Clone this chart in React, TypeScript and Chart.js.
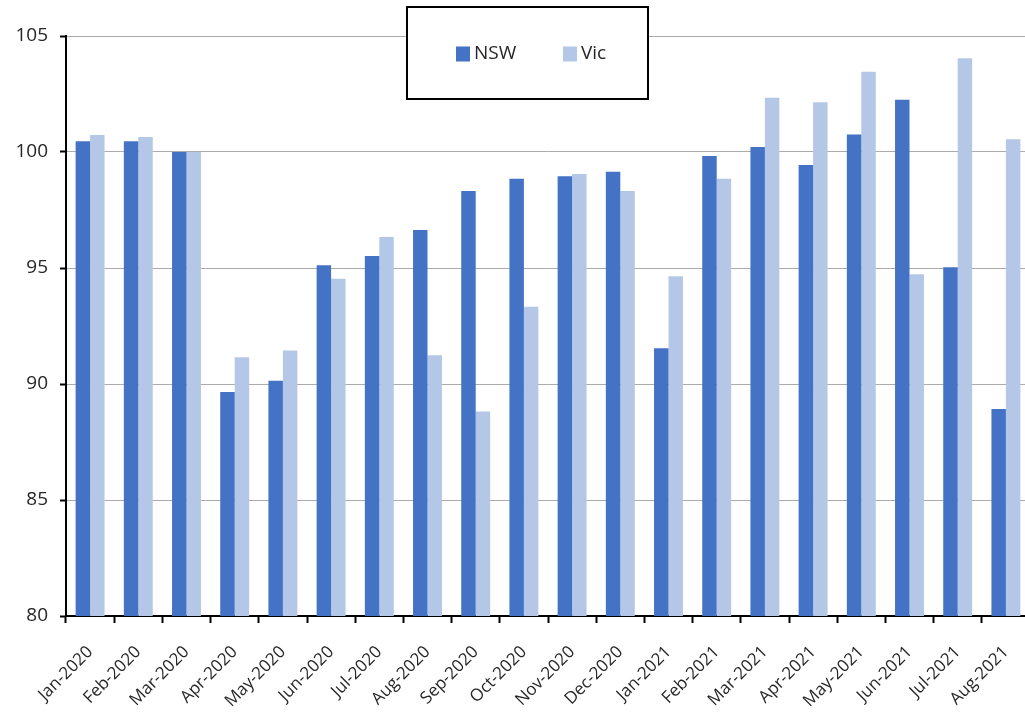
import React, { useEffect, useRef } from "react";
import { Chart, registerables } from "chart.js";

Chart.register(...registerables);

const categories = [
  "Jan-2020", "Feb-2020", "Mar-2020", "Apr-2020", "May-2020", "Jun-2020",
  "Jul-2020", "Aug-2020", "Sep-2020", "Oct-2020", "Nov-2020", "Dec-2020",
  "Jan-2021", "Feb-2021", "Mar-2021", "Apr-2021", "May-2021", "Jun-2021",
  "Jul-2021", "Aug-2021",
];

const nswValues = [
  100.46, 100.46, 100.0, 89.66, 90.14, 95.12, 95.52, 96.64, 98.32, 98.85,
  98.95, 99.15, 91.54, 99.83, 100.22, 99.44, 100.75, 102.25, 95.03, 88.92,
];

const vicValues = [
  100.73, 100.65, 100.0, 91.15, 91.44, 94.54, 96.34, 91.24, 88.82, 93.33,
  99.05, 98.32, 94.64, 98.85, 102.34, 102.14, 103.46, 94.73, 104.04, 100.55,
];

const seriesNames = ["NSW", "Vic"];
const seriesColors = ["#4472C4", "#B4C7E7"];
const yMin = 80;
const yMax = 105;
const yStep = 5;

const FONT = "'Open Sans', 'Liberation Sans', sans-serif";

const boxedLegend = {
  id: "boxedLegend",
  afterDraw(chart: any, _args: any, opts: any) {
    const ctx = chart.ctx;
    ctx.save();
    ctx.fillStyle = "#ffffff";
    ctx.fillRect(opts.x, opts.y, opts.w, opts.h);
    ctx.strokeStyle = "#000000";
    ctx.lineWidth = 2;
    ctx.strokeRect(opts.x, opts.y, opts.w, opts.h);
    ctx.font = `19px ${FONT}`;
    ctx.textBaseline = "middle";
    ctx.textAlign = "left";
    chart.data.datasets.forEach((ds: any, i: number) => {
      const ix = opts.itemX[i];
      ctx.fillStyle = ds.backgroundColor;
      ctx.fillRect(ix, opts.itemY - 7.5, 14, 15);
      ctx.fillStyle = "#262626";
      ctx.fillText(ds.label, ix + 18, opts.itemY);
    });
    ctx.restore();
  },
};

export default function App() {
  const canvasRef = useRef<HTMLCanvasElement | null>(null);

  useEffect(() => {
    if (!canvasRef.current) return;
    const chart = new Chart(canvasRef.current, {
      type: "bar",
      data: {
        labels: categories,
        datasets: [
          {
            label: seriesNames[0],
            data: nswValues,
            backgroundColor: seriesColors[0],
            categoryPercentage: 0.6,
            barPercentage: 1.0,
          },
          {
            label: seriesNames[1],
            data: vicValues,
            backgroundColor: seriesColors[1],
            categoryPercentage: 0.6,
            barPercentage: 1.0,
          },
        ],
      },
      options: {
        responsive: false,
        animation: false,
        layout: { padding: { top: 36, right: 15, left: 0, bottom: 0 } },
        plugins: {
          legend: { display: false },
          tooltip: { enabled: false },
          boxedLegend: {
            x: 407,
            y: 7,
            w: 241,
            h: 92,
            itemX: [456, 563],
            itemY: 54,
          },
        } as any,
        scales: {
          x: {
            offset: true,
            grid: {
              offset: true,
              drawOnChartArea: false,
              drawTicks: true,
              tickLength: 7,
              tickColor: "#000000",
              tickWidth: 2,
            },
            border: { color: "#000000", width: 2 },
            ticks: {
              color: "#262626",
              font: { family: FONT, size: 17 },
              minRotation: 45,
              maxRotation: 45,
              padding: 19,
              autoSkip: false,
            },
            afterFit(scale: any) {
              scale.height = 98;
            },
          },
          y: {
            min: yMin,
            max: yMax,
            ticks: {
              stepSize: yStep,
              color: "#262626",
              font: { family: FONT, size: 19 },
              padding: 12,
            },
            grid: {
              color: "#ABABAB",
              lineWidth: 1,
              drawTicks: true,
              tickLength: 6,
              tickColor: "#000000",
              tickWidth: 2,
            },
            border: { color: "#000000", width: 2 },
            afterFit(scale: any) {
              scale.width = 66;
            },
          },
        },
      },
      plugins: [boxedLegend],
    });
    return () => chart.destroy();
  }, []);

  return (
    <div
      style={{
        position: "fixed",
        left: 0,
        top: 0,
        width: 1025,
        height: 714,
        overflow: "hidden",
        background: "#ffffff",
      }}
    >
      <canvas
        ref={canvasRef}
        width={1045}
        height={714}
        style={{ width: 1045, height: 714, display: "block" }}
      />
    </div>
  );
}
